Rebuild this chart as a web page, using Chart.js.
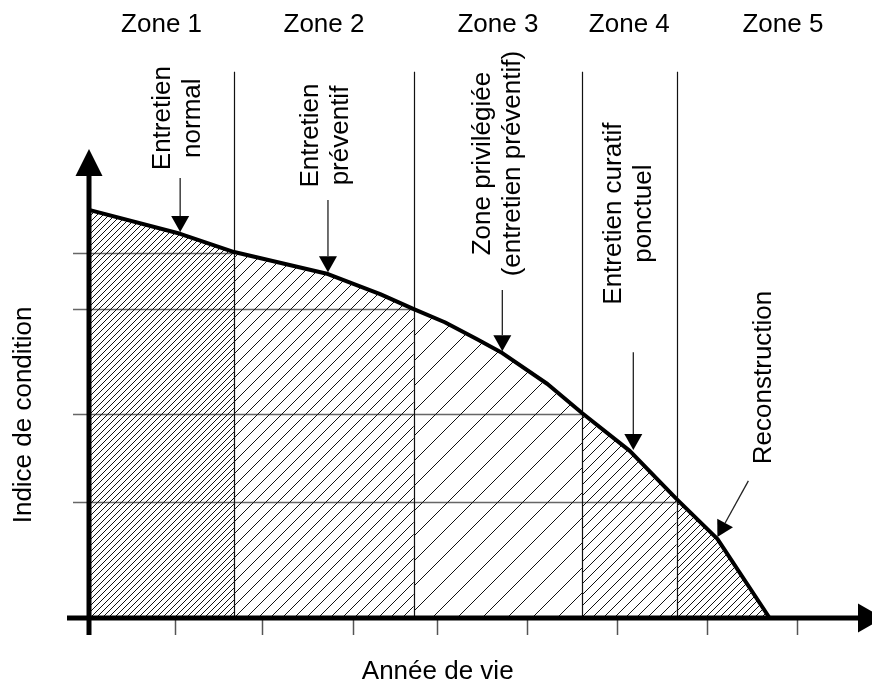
<!DOCTYPE html>
<html><head><meta charset="utf-8">
<script src="https://cdn.jsdelivr.net/npm/chart.js@4/dist/chart.umd.min.js"></script>
<style>html,body{margin:0;padding:0;background:#fff;} #wrap{width:872px;height:683px;}</style>
</head><body><div id="wrap"><canvas id="c" width="872" height="683"></canvas></div>
<script>
// ---- data ----
const zoneLabels = ['Zone 1', 'Zone 2', 'Zone 3', 'Zone 4', 'Zone 5'];
const zoneEdges = [0, 1.64, 3.67, 5.57, 6.64, 9.04];
const curveX = [0, 1.03, 1.64, 2.70, 3.29, 3.67, 4.02, 4.38, 4.67, 5.18, 5.57, 6.11, 6.64, 7.10, 7.69];
const curveY = [8.72, 8.21, 7.82, 7.35, 6.92, 6.60, 6.32, 5.96, 5.66, 5.00, 4.38, 3.57, 2.54, 1.69, 0];
const gridY = [7.80, 6.60, 4.36, 2.48];          // each ends at the matching zone boundary
const xTicks = [0.97, 1.95, 2.98, 3.93, 4.95, 5.97, 6.98, 8.0];
const noteTexts = [['Entretien', 'normal'], ['Entretien', 'préventif'],
  ['Zone privilégiée', '(entretien préventif)'], ['Entretien curatif', 'ponctuel'], ['Reconstruction']];
const arrowFromX = [1.03, 2.70, 4.67, 6.15, 7.45];
const arrowFromY = [9.40, 8.93, 7.01, 5.68, 2.93];
const arrowToX = [1.03, 2.70, 4.67, 6.15, 7.10];
const arrowToY = [8.25, 7.39, 5.70, 3.59, 1.73];
const xTitle = 'Année de vie';
const yTitle = 'Indice de condition';

// ---- layout / style ----
const FONT = '26px "Liberation Sans", Arial, sans-serif';
const hatchSizes = [6, 12, 25, 11, 7];
const noteCenterY = [10.68, 10.31, 9.71, 8.64, 5.14];   // data units
const noteBaseX = [0.915, 2.59, 4.53, 6.01, 7.71];      // data units (first line)
const noteLineGap = 30;
const zoneTopY = 11.67;
const zoneLabelY = 12.52;
const xTitleX = 3.94;
const yTitleY = 4.34;

const mainCtx = document.getElementById('c').getContext('2d');
function hatch(s) {
  const cv = document.createElement('canvas'); cv.width = s; cv.height = s;
  const g = cv.getContext('2d');
  g.strokeStyle = '#111'; g.lineWidth = 1;
  g.beginPath();
  g.moveTo(-1, s + 1); g.lineTo(s + 1, -1);
  g.moveTo(-1, 1); g.lineTo(1, -1);
  g.moveTo(s - 1, s + 1); g.lineTo(s + 1, s - 1);
  g.stroke();
  return mainCtx.createPattern(cv, 'repeat');
}

const pts = curveX.map((x, i) => ({ x, y: curveY[i] }));
const zoneSets = zoneLabels.map((z, i) => ({
  label: z,
  data: pts.filter(p => p.x >= zoneEdges[i] - 1e-9 && p.x <= zoneEdges[i + 1] + 1e-9),
  fill: 'origin', backgroundColor: hatch(hatchSizes[i]),
  borderWidth: 0, borderColor: 'rgba(0,0,0,0)', pointRadius: 0, tension: 0
}));
const curveSet = { label: 'curve', data: pts, fill: false, borderColor: '#000', borderWidth: 4,
  pointRadius: 0, tension: 0, borderJoinStyle: 'round', clip: 10 };

function head(ctx, x1, y1, x2, y2, len, hw) {
  const a = Math.atan2(y2 - y1, x2 - x1);
  const bx = x2 - len * Math.cos(a), by = y2 - len * Math.sin(a);
  ctx.beginPath();
  ctx.moveTo(x2, y2);
  ctx.lineTo(bx + hw * Math.sin(a), by - hw * Math.cos(a));
  ctx.lineTo(bx - hw * Math.sin(a), by + hw * Math.cos(a));
  ctx.closePath(); ctx.fill();
  return [bx, by];
}

const deco = {
  id: 'deco',
  beforeDatasetsDraw(c) {
    const ctx = c.ctx, X = c.scales.x, Y = c.scales.y;
    const x0 = X.getPixelForValue(0);
    ctx.save();
    ctx.strokeStyle = '#666'; ctx.lineWidth = 1.5;
    gridY.forEach((g, i) => {
      const y = Math.round(Y.getPixelForValue(g)) + 0.5;
      ctx.beginPath(); ctx.moveTo(x0 - 16, y); ctx.lineTo(X.getPixelForValue(zoneEdges[i + 1]), y); ctx.stroke();
    });
    ctx.strokeStyle = '#111'; ctx.lineWidth = 1.2;
    for (let i = 1; i < zoneEdges.length - 1; i++) {
      const x = Math.round(X.getPixelForValue(zoneEdges[i])) + 0.5;
      ctx.beginPath(); ctx.moveTo(x, Y.getPixelForValue(zoneTopY)); ctx.lineTo(x, Y.getPixelForValue(0)); ctx.stroke();
    }
    ctx.restore();
  },
  afterDatasetsDraw(c) {
    const ctx = c.ctx, X = c.scales.x, Y = c.scales.y, A = c.chartArea;
    const x0 = X.getPixelForValue(0), y0 = Y.getPixelForValue(0);
    ctx.save();
    // x ticks
    ctx.strokeStyle = '#555'; ctx.lineWidth = 1.5;
    xTicks.forEach(t => {
      const x = Math.round(X.getPixelForValue(t)) + 0.5;
      ctx.beginPath(); ctx.moveTo(x, y0); ctx.lineTo(x, y0 + 17); ctx.stroke();
    });
    // axes
    ctx.strokeStyle = '#000'; ctx.fillStyle = '#000'; ctx.lineWidth = 5; ctx.lineCap = 'butt';
    const xb = A.right - 1;
    ctx.beginPath(); ctx.moveTo(x0 - 22, y0); ctx.lineTo(xb + 2, y0); ctx.stroke();
    ctx.beginPath(); ctx.moveTo(xb, y0 - 14.5); ctx.lineTo(xb, y0 + 14.5); ctx.lineTo(xb + 25, y0); ctx.closePath(); ctx.fill();
    const yb = A.top + 26;
    ctx.beginPath(); ctx.moveTo(x0, y0 + 17); ctx.lineTo(x0, yb - 2); ctx.stroke();
    ctx.beginPath(); ctx.moveTo(x0 - 13.5, yb); ctx.lineTo(x0 + 13.5, yb); ctx.lineTo(x0, A.top - 1); ctx.closePath(); ctx.fill();
    // annotation arrows
    ctx.lineWidth = 1.3; ctx.strokeStyle = '#222';
    arrowFromX.forEach((fx, i) => {
      const x1 = X.getPixelForValue(fx), y1 = Y.getPixelForValue(arrowFromY[i]);
      const x2 = X.getPixelForValue(arrowToX[i]), y2 = Y.getPixelForValue(arrowToY[i]);
      const [bx, by] = head(ctx, x1, y1, x2, y2, 16, 9);
      ctx.beginPath(); ctx.moveTo(x1, y1); ctx.lineTo(bx, by); ctx.stroke();
    });
    // texts
    ctx.font = FONT; ctx.fillStyle = '#000'; ctx.textAlign = 'center'; ctx.textBaseline = 'alphabetic';
    zoneLabels.forEach((z, i) => {
      ctx.fillText(z, X.getPixelForValue((zoneEdges[i] + zoneEdges[i + 1]) / 2), Y.getPixelForValue(zoneLabelY));
    });
    noteTexts.forEach((lines, i) => {
      ctx.save();
      ctx.translate(0, Y.getPixelForValue(noteCenterY[i]));
      ctx.rotate(-Math.PI / 2);
      const bx = X.getPixelForValue(noteBaseX[i]);
      lines.forEach((t, k) => ctx.fillText(t, 0, bx + k * noteLineGap));
      ctx.restore();
    });
    ctx.fillText(xTitle, X.getPixelForValue(xTitleX), y0 + 61);
    ctx.save();
    ctx.translate(0, Y.getPixelForValue(yTitleY));
    ctx.rotate(-Math.PI / 2);
    ctx.fillText(yTitle, 0, 31);
    ctx.restore();
    ctx.restore();
  }
};

new Chart(document.getElementById('c'), {
  type: 'line',
  data: { datasets: [curveSet, ...zoneSets] },
  options: {
    responsive: false, animation: false, devicePixelRatio: 1,
    layout: { padding: { left: 89, right: 13, top: 150, bottom: 65 } },
    plugins: { legend: { display: false }, tooltip: { enabled: false } },
    scales: {
      x: { type: 'linear', display: false, min: 0, max: 8.7 },
      y: { type: 'linear', display: false, min: 0, max: 10 }
    }
  },
  plugins: [deco]
});
</script>
</body></html>
